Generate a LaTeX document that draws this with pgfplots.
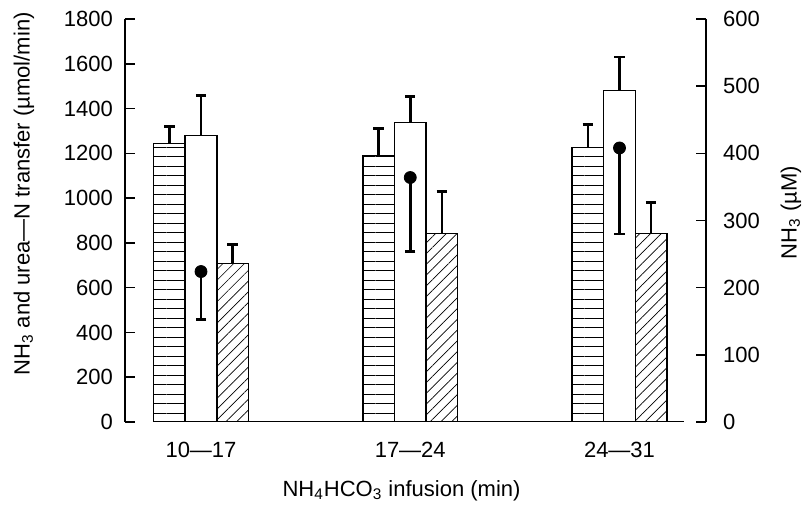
\documentclass[border=0pt]{standalone}
\usepackage{fontspec}
\setmainfont{Liberation Sans}
\usepackage{pgfplots}
\pgfplotsset{compat=1.18}
\usetikzlibrary{patterns.meta}

\pgfplotsset{
  basefig/.style={
    scale only axis, width=290.5pt, height=201.5pt,
    xmin=-0.3632, xmax=2.4134,
    tick align=inside, major tick length=5pt,
    every tick/.style={black, line width=0.8pt},
    tick label style={font=\fontsize{11}{13}\selectfont},
    label style={font=\fontsize{11}{13}\selectfont},
    /pgf/number format/assume math mode=true,
    /pgf/number format/1000 sep={},
  },
  error bars/errstyle/.style={
    error bar style={line width=1.3pt},
    error mark options={rotate=90, mark size=2.6pt, line width=1.3pt},
  },
}

\begin{document}
\begin{tikzpicture}
\useasboundingbox (-62.5pt,-43pt) rectangle (341.5pt,211pt);

% left axis: transfer rates (bars)
\begin{axis}[basefig,
  ymin=0, ymax=1800, ytick={0,200,...,1800},
  axis y line*=left, axis x line*=bottom,
  x axis line style={draw=none},
  y axis line style={line width=0.8pt},
  xtick={0,1,2}, xticklabels={10—17,17—24,24—31},
  xtick style={draw=none},
  xticklabel shift=6.5pt, yticklabel shift=2.5pt,
  xlabel={NH\textsubscript{4}HCO\textsubscript{3} infusion (min)},
  xlabel style={at={(axis description cs:0.476,-0.171)}, anchor=center},
  ylabel={NH\textsubscript{3} and urea—N transfer (µmol/min)},
  ylabel style={at={(axis description cs:-0.174,0.566)}, anchor=center},
]
\addplot[ybar, bar width=0.151, draw=black, line width=0.75pt,
  pattern={Lines[angle=0, distance=4.75pt, line width=0.4pt]},
  error bars/.cd, y dir=plus, y explicit, errstyle]
  coordinates {(-0.151,1243) +- (0,76) (0.849,1190) +- (0,120) (1.849,1225) +- (0,103)};
\addplot[ybar, bar width=0.151, draw=black, fill=white, line width=0.75pt,
  error bars/.cd, y dir=plus, y explicit, errstyle]
  coordinates {(0,1279) +- (0,178) (1,1337) +- (0,116) (2,1480) +- (0,151)};
\addplot[ybar, bar width=0.151, draw=black, line width=0.75pt,
  pattern={Lines[angle=45, distance=3.8pt, line width=0.35pt]},
  error bars/.cd, y dir=plus, y explicit, errstyle]
  coordinates {(0.151,709) +- (0,84) (1.151,842) +- (0,187) (2.151,842) +- (0,138)};
\draw[line width=0.8pt] (axis cs:-0.2294,0) -- (axis cs:2.308,0);
\end{axis}

% right axis: NH3 concentration (dots)
\begin{axis}[basefig,
  ymin=0, ymax=600, ytick={0,100,...,600},
  axis y line*=right, axis x line=none,
  y axis line style={line width=0.8pt},
  yticklabel shift=5pt,
  ylabel={NH\textsubscript{3} (µM)},
  ylabel style={at={(axis description cs:1.146,0.519)}, anchor=center},
]
\addplot[only marks, mark=*, mark size=3pt, black,
  error bars/.cd, y dir=minus, y explicit, errstyle]
  coordinates {(0,224) +- (0,71) (1,364) +- (0,110) (2,408) +- (0,128)};
\end{axis}
\end{tikzpicture}
\end{document}
